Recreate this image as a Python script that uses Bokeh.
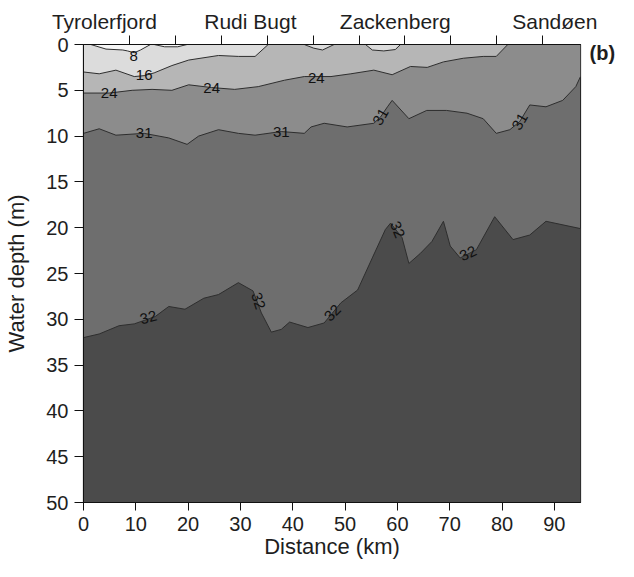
import math
from bokeh.plotting import figure
from bokeh.models import Range1d, LinearAxis, FixedTicker, ColumnDataSource, CustomJSTickFormatter
from bokeh.embed import file_html
from bokeh.resources import INLINE
from bokeh.core.properties import value

# ---- data: salinity contour boundaries (distance km, depth m) ----
x32 = [0, 3.0, 6.8, 9.7, 13.7, 16.3, 19.4, 23.0, 25.8, 29.6, 32.4, 34.0, 35.9, 37.8, 39.4, 42.9, 46.0,
       49.2, 52.4, 55.2, 57.7, 58.7, 60.9, 62.2, 64.4, 66.6, 68.8, 70.1, 72.0, 75.1, 78.6, 82.1, 85.3, 88.4, 95]
d32 = [32.0, 31.6, 30.7, 30.5, 29.7, 28.6, 28.9, 27.7, 27.3, 26.0, 26.9, 29.3, 31.4, 31.1, 30.3, 30.9, 30.4,
       28.2, 26.8, 23.3, 20.2, 19.5, 21.1, 23.9, 22.8, 21.5, 19.3, 22.0, 23.3, 22.4, 18.8, 21.3, 20.8, 19.3, 20.1]

x31 = [0, 3.0, 6.2, 11.6, 16.3, 19.8, 22.0, 25.8, 29.6, 32.8, 37.8, 42.2, 43.5, 46.0, 50.4, 55.5, 56.8, 58.1,
       59.0, 62.2, 65.6, 69.4, 73.3, 76.4, 78.9, 81.5, 83.4, 85.3, 88.4, 91.6, 94.1, 95]
d31 = [9.7, 9.2, 9.9, 9.7, 10.2, 10.9, 10.0, 9.3, 9.7, 9.9, 9.5, 9.7, 9.0, 8.6, 9.0, 8.6, 7.9, 6.8,
       6.1, 8.1, 7.2, 7.2, 7.5, 8.1, 9.7, 9.3, 8.4, 6.6, 6.8, 6.1, 4.6, 3.5]

x24 = [0, 4.9, 9.3, 13.1, 16.9, 20.1, 24.5, 28.9, 33.4, 38.4, 42.2, 47.3, 51.1, 55.5, 59.0, 62.5, 65.7,
       68.8, 72.6, 76.4, 78.9, 81.1]
d24 = [5.3, 5.3, 5.0, 4.9, 5.0, 4.4, 4.7, 4.9, 4.6, 3.9, 3.5, 3.5, 3.2, 2.8, 3.3, 2.4, 2.5,
       1.9, 1.5, 1.3, 1.3, 0.0]

x16 = [0, 3.0, 6.2, 9.7, 11.6, 13.5, 16.9, 20.1, 25.8, 29.6, 32.8, 35.3]
d16 = [3.0, 3.2, 2.8, 3.5, 3.4, 3.1, 2.3, 1.7, 1.2, 1.3, 1.3, 0.0]

x16a = [42.2, 44.0, 45.7, 47.9]
d16a = [0.0, 0.4, 0.6, 0.0]
x16b = [53.9, 55.2, 57.4, 59.6, 60.6]
d16b = [0.0, 0.6, 0.7, 0.55, 0.0]

x8a = [1.4, 4.3, 7.5, 8.4, 9.7, 10.9, 12.8]
d8a = [0.0, 0.5, 0.6, 0.7, 0.9, 0.6, 0.0]
x8b = [13.5, 15.5, 18.0, 19.8]
d8b = [0.0, 0.25, 0.25, 0.0]

# contour labels
lab_text = ["8", "16", "24", "24", "24", "31", "31", "31", "31", "32", "32", "32", "32", "32"]
lab_x = [9.6, 11.6, 4.9, 24.5, 44.5, 11.6, 37.8, 56.8, 83.4, 12.4, 33.4, 47.6, 60.0, 73.5]
lab_y = [1.3, 3.3, 5.3, 4.7, 3.7, 9.7, 9.5, 7.9, 8.4, 29.8, 28.0, 29.3, 20.2, 22.8]
lab_ang = [0, 0, 0, 0, 0, 0, 0, 60, 60, 15, -72, 45, -68, 25]

x_ticks = [0, 10, 20, 30, 40, 50, 60, 70, 80, 90]
y_ticks = [0, 5, 10, 15, 20, 25, 30, 35, 40, 45, 50]
station_km = [8.8, 17.5, 26.3, 35.1, 43.9, 52.7, 61.4, 70.2, 79.0, 87.8]
place_km = [4.0, 31.9, 59.6, 90.1]
place_names = ["Tyrolerfjord", "Rudi Bugt", "Zackenberg", "Sandøen"]
panel_y = [0.9]
panel_tag = ["(b)"]

# ---- styles ----
C_LT8 = "#f6f6f6"
C_8_16 = "#dcdcdc"
C_16_24 = "#b6b6b6"
C_24_31 = "#8c8c8c"
C_31_32 = "#6e6e6e"
C_GT32 = "#4b4b4b"
LINE = "#2e2e2e"
FONT = "Liberation Sans"
TXT = "#1e1e1e"

p = figure(width=618, height=561, x_range=Range1d(0, 95), y_range=Range1d(50, 0),
           output_backend="svg", toolbar_location=None,
           min_border_left=83, min_border_right=35, min_border_top=44, min_border_bottom=59)
p.grid.visible = False
p.outline_line_color = "#111111"
p.outline_line_width = 1.2

# filled bands (back to front)
p.varea(x=[0, 95], y1=[0, 0], y2=[50, 50], fill_color=C_31_32)
p.varea(x=x32, y1=d32, y2=[50] * len(x32), fill_color=C_GT32)
p.varea(x=x31, y1=[0] * len(x31), y2=d31, fill_color=C_24_31)
p.varea(x=x24, y1=[0] * len(x24), y2=d24, fill_color=C_16_24)
p.varea(x=x16, y1=[0] * len(x16), y2=d16, fill_color=C_8_16)
p.varea(x=x16a, y1=[0] * len(x16a), y2=d16a, fill_color=C_8_16)
p.varea(x=x16b, y1=[0] * len(x16b), y2=d16b, fill_color=C_8_16)
p.varea(x=x8a, y1=[0] * len(x8a), y2=d8a, fill_color=C_LT8)
p.varea(x=x8b, y1=[0] * len(x8b), y2=d8b, fill_color=C_LT8)

for xs, ds in [(x32, d32), (x31, d31), (x24, d24), (x16, d16), (x16a, d16a), (x16b, d16b), (x8a, d8a), (x8b, d8b)]:
    p.line(x=xs, y=ds, line_color=LINE, line_width=1)

src = ColumnDataSource(dict(x=lab_x, y=lab_y, text=lab_text, angle=[math.radians(a) for a in lab_ang]))
p.text(x="x", y="y", text="text", angle="angle", source=src, text_align="center", text_baseline="middle",
       text_font=value(FONT), text_font_size="15px", text_color="#111111")

# axes
p.xaxis.ticker = FixedTicker(ticks=x_ticks)
p.yaxis.ticker = FixedTicker(ticks=y_ticks)
p.xaxis.axis_label = "Distance (km)"
p.yaxis.axis_label = "Water depth (m)"
for ax in (p.xaxis[0], p.yaxis[0]):
    ax.major_label_text_font = FONT
    ax.major_label_text_font_size = "20px"
    ax.major_label_text_color = TXT
    ax.axis_label_text_font = FONT
    ax.axis_label_text_font_size = "22px"
    ax.axis_label_text_font_style = "normal"
    ax.axis_label_text_color = TXT
    ax.major_tick_in = 0
    ax.minor_tick_line_color = None
    ax.axis_line_color = "#111111"
    ax.major_tick_line_color = "#111111"
p.xaxis.major_tick_out = 8
p.yaxis.major_tick_out = 9
p.xaxis.major_label_standoff = 6
p.yaxis.major_label_standoff = 6
p.xaxis.axis_label_standoff = 0
p.yaxis.axis_label_standoff = 14

ax_top = LinearAxis(ticker=FixedTicker(ticks=station_km), formatter=CustomJSTickFormatter(code="return ''"))
ax_top.major_tick_out = 9
ax_top.major_tick_in = 0
ax_top.minor_tick_line_color = None
ax_top.major_label_standoff = 0
ax_top.major_label_text_font_size = "2px"
ax_top.axis_line_color = "#111111"
ax_top.major_tick_line_color = "#111111"
p.add_layout(ax_top, "above")

ax_names = LinearAxis(ticker=FixedTicker(ticks=place_km),
                      major_label_overrides={k: n for k, n in zip(place_km, place_names)})
ax_names.major_tick_line_color = None
ax_names.major_tick_out = 0
ax_names.major_tick_in = 0
ax_names.minor_tick_line_color = None
ax_names.axis_line_color = None
ax_names.major_label_text_font = FONT
ax_names.major_label_text_font_size = "21px"
ax_names.major_label_text_color = TXT
ax_names.major_label_standoff = 3
p.add_layout(ax_names, "above")

ax_tag = LinearAxis(ticker=FixedTicker(ticks=panel_y),
                    major_label_overrides={k: n for k, n in zip(panel_y, panel_tag)})
ax_tag.major_tick_line_color = None
ax_tag.major_tick_out = 0
ax_tag.major_tick_in = 0
ax_tag.minor_tick_line_color = None
ax_tag.axis_line_color = None
ax_tag.major_label_text_font = FONT
ax_tag.major_label_text_font_size = "20px"
ax_tag.major_label_text_font_style = "bold"
ax_tag.major_label_text_color = TXT
ax_tag.major_label_standoff = 9
ax_tag.major_label_orientation = "horizontal"
p.add_layout(ax_tag, "right")

open("out.html", "w").write(file_html(p, INLINE))
